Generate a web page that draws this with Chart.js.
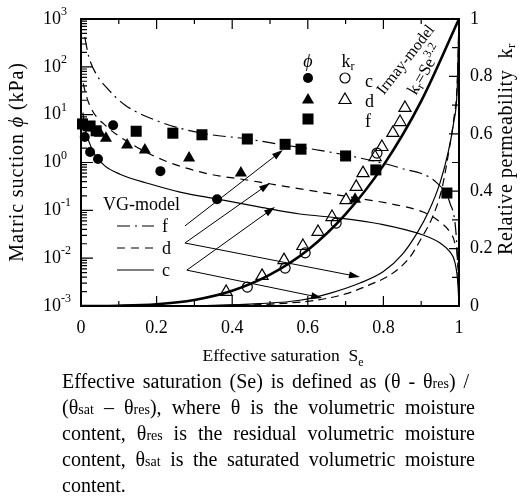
<!DOCTYPE html>
<html>
<head>
<meta charset="utf-8">
<script src="https://cdn.jsdelivr.net/npm/chart.js@4.4.0/dist/chart.umd.min.js"></script>
<style>
body { margin: 0; background: #fff; }
#wrap { position: relative; width: 521px; height: 498px; overflow: hidden; }
#chart { position: absolute; left: 0; top: 0; }
#caption { position: absolute; left: 62px; top: 0; width: 413px; font-family: "Liberation Serif", serif; font-size: 20px; line-height: 26px; color: #000; }
#caption div { position: absolute; left: 0; width: 413px; height: 26px; white-space: nowrap; }
#caption .just { white-space: normal; text-align: justify; text-align-last: justify; }
#caption .s { font-size: 14px; }
</style>
</head>
<body>
<div id="wrap">
<canvas id="chart" width="521" height="370"></canvas>
<div id="caption">
  <div class="just" style="top:368px; width:407px">Effective saturation (Se) is defined as (θ - θ<span class="s">res</span>) /</div>
  <div class="just" style="top:394px">(θ<span class="s">sat</span> – θ<span class="s">res</span>), where θ is the volumetric moisture</div>
  <div class="just" style="top:420px">content, θ<span class="s">res</span> is the residual volumetric moisture</div>
  <div class="just" style="top:446px">content, θ<span class="s">sat</span> is the saturated volumetric moisture</div>
  <div style="top:472px">content.</div>
</div>
</div>
<script>
const ctx = document.querySelector('#chart').getContext('2d');

// axes: Se (x), suction in kPa (left, log), relative permeability (right)
const xTickValues = [0, 0.2, 0.4, 0.6, 0.8, 1];
const xTickLabels = ['0', '0.2', '0.4', '0.6', '0.8', '1'];
const suctionDecades = [-3, -2, -1, 0, 1, 2, 3];
const krTickValues = [0, 0.2, 0.4, 0.6, 0.8, 1];
const krTickLabels = ['0', '0.2', '0.4', '0.6', '0.8', '1'];

// measured suction (filled markers)
const sucC_se = [0.010, 0.024, 0.045, 0.085, 0.21, 0.36];
const sucC_phi = [3.4, 1.66, 1.18, 6.0, 0.66, 0.17];
const sucD_se = [0.019, 0.05, 0.066, 0.122, 0.169, 0.286, 0.423, 0.725];
const sucD_phi = [5.3, 4.1, 3.2, 2.32, 1.82, 1.24, 0.60, 0.17];
const sucF_se = [0.004, 0.024, 0.04, 0.146, 0.243, 0.32, 0.44, 0.54, 0.582, 0.70, 0.78, 0.968];
const sucF_phi = [6.4, 5.8, 4.6, 4.5, 4.1, 3.8, 3.1, 2.4, 1.9, 1.37, 0.70, 0.23];

// measured relative permeability (open markers)
const krC_se = [0.44, 0.54, 0.593, 0.675, 0.783];
const krC_val = [0.066, 0.132, 0.185, 0.289, 0.533];
const krD_se = [0.384, 0.479, 0.537, 0.587, 0.627, 0.664, 0.701, 0.728, 0.746, 0.778, 0.796, 0.825, 0.844, 0.857];
const krD_val = [0.049, 0.105, 0.160, 0.209, 0.258, 0.310, 0.369, 0.415, 0.463, 0.519, 0.554, 0.603, 0.641, 0.690];

// VG-model suction curves
const vgF_se = [0.01, 0.02, 0.04, 0.069, 0.116, 0.217, 0.32, 0.44, 0.54, 0.632, 0.738, 0.844, 0.942, 0.976, 0.992, 0.997, 1.0];
const vgF_phi = [420, 170, 71, 36, 16, 6.7, 4.1, 3.1, 2.3, 1.8, 1.24, 0.77, 0.37, 0.142, 0.034, 0.0056, 0.001];
const vgD_se = [0.006, 0.012, 0.029, 0.063, 0.116, 0.217, 0.328, 0.439, 0.519, 0.632, 0.712, 0.836, 0.905, 0.95, 0.976, 0.989, 0.997, 1.0];
const vgD_phi = [45, 28, 12.5, 6.1, 2.95, 1.13, 0.60, 0.43, 0.338, 0.241, 0.19, 0.129, 0.092, 0.057, 0.035, 0.0207, 0.0072, 0.001];
const vgC_se = [0.005, 0.01, 0.019, 0.037, 0.063, 0.103, 0.183, 0.262, 0.36, 0.474, 0.579, 0.685, 0.791, 0.905, 0.95, 0.976, 0.989, 0.997, 1.0];
const vgC_phi = [11, 5.5, 3.0, 1.44, 0.85, 0.57, 0.355, 0.241, 0.172, 0.117, 0.0837, 0.069, 0.0518, 0.0305, 0.0207, 0.0135, 0.0083, 0.003, 0.001];

// permeability curves
const irmay_se = [0, 0.1, 0.2, 0.3, 0.4, 0.5, 0.6, 0.7, 0.8, 0.9, 1];
const irmay_kr = [0, 0.001, 0.006, 0.021, 0.053, 0.109, 0.195, 0.32, 0.49, 0.714, 1];
const vgkrC_se = [0.2, 0.35, 0.47, 0.579, 0.66, 0.738, 0.80, 0.85, 0.889, 0.92, 0.95, 0.972, 0.986, 0.995, 1];
const vgkrC_val = [0, 0.002, 0.008, 0.02, 0.045, 0.08, 0.12, 0.18, 0.254, 0.33, 0.43, 0.54, 0.64, 0.75, 1];
const vgkrD_se = [0.25, 0.4, 0.52, 0.62, 0.70, 0.76, 0.82, 0.87, 0.90, 0.93, 0.955, 0.972, 0.986, 0.995, 1];
const vgkrD_val = [0, 0.002, 0.008, 0.02, 0.042, 0.072, 0.11, 0.17, 0.235, 0.31, 0.41, 0.53, 0.65, 0.77, 1];

// arrows from the VG-model key, in (Se, kr) units
const arrowTail = [[0.275, 0.279], [0.275, 0.2195], [0.275, 0.2195], [0.28, 0.125], [0.28, 0.125]];
const arrowHead = [[0.534, 0.5436], [0.50, 0.4286], [0.738, 0.101], [0.513, 0.345], [0.638, 0.028]];

const FONT = '"Liberation Serif", "Times New Roman", serif';

function zip(xs, ys) {
    return xs.map((x, i) => ({ x: x, y: ys[i] }));
}

function markers(xs, ys, style, filled, axis, r) {
    return {
        data: zip(xs, ys),
        yAxisID: axis,
        showLine: false,
        pointStyle: style,
        pointRadius: r,
        pointBorderWidth: filled ? 0 : 1.2,
        pointBackgroundColor: filled ? '#000' : 'rgba(0,0,0,0)',
        pointBorderColor: '#000',
        clip: false
    };
}

function curve(xs, ys, axis, width, dash) {
    return {
        data: zip(xs, ys),
        yAxisID: axis,
        showLine: true,
        borderColor: '#000',
        borderWidth: width,
        borderDash: dash,
        pointRadius: 0,
        cubicInterpolationMode: 'monotone'
    };
}

function drawRuns(c, parts, x, y, align, spacing) {
    // parts: [text, size, dy, italic]
    const fnt = (p) => (p[3] ? 'italic ' : '') + p[1] + 'px ' + FONT;
    c.letterSpacing = (spacing || 0) + 'px';
    let w = 0;
    for (const p of parts) {
        c.font = fnt(p);
        w += c.measureText(p[0]).width;
    }
    let cx = align === 'right' ? x - w : (align === 'center' ? x - w / 2 : x);
    for (const p of parts) {
        c.font = fnt(p);
        c.fillText(p[0], cx, y + (p[2] || 0));
        cx += c.measureText(p[0]).width;
    }
    c.letterSpacing = '0px';
}

function drawMarker(c, style, r, filled, x, y) {
    c.fillStyle = filled ? '#000' : 'rgba(0,0,0,0)';
    c.strokeStyle = '#000';
    c.lineWidth = 1.2;
    Chart.helpers.drawPoint(c, { pointStyle: style, radius: r, rotation: 0, borderWidth: filled ? 0 : 1.2 }, x, y);
}

const decorations = {
    id: 'decorations',
    afterDraw(chart) {
        const c = chart.ctx;
        const a = chart.chartArea;
        const sx = chart.scales.x, sl = chart.scales.y, sr = chart.scales.y2;
        c.save();
        c.strokeStyle = '#000';
        c.fillStyle = '#000';

        // inward ticks
        c.lineWidth = 1.2;
        c.beginPath();
        for (let i = 0; i <= 10; i++) {
            const px = sx.getPixelForValue(i / 10);
            const len = i % 2 === 0 ? 10 : 5;
            c.moveTo(px, a.bottom); c.lineTo(px, a.bottom - len);
            c.moveTo(px, a.top); c.lineTo(px, a.top + len);
        }
        for (let i = 0; i <= 10; i++) {
            const py = sr.getPixelForValue(i / 10);
            const len = i % 2 === 0 ? 10 : 7;
            c.moveTo(a.right, py); c.lineTo(a.right - len, py);
        }
        for (const d of suctionDecades) {
            const py = sl.getPixelForValue(Math.pow(10, d));
            c.moveTo(a.left, py); c.lineTo(a.left + 12, py);
            if (d < 3) {
                for (let m = 2; m <= 9; m++) {
                    const pm = sl.getPixelForValue(m * Math.pow(10, d));
                    c.moveTo(a.left, pm); c.lineTo(a.left + 6, pm);
                }
            }
        }
        c.stroke();

        // frame
        c.lineWidth = 2;
        c.strokeRect(a.left, a.top, a.right - a.left, a.bottom - a.top);

        // tick labels
        c.textBaseline = 'middle';
        c.textAlign = 'left';
        xTickValues.forEach((v, i) => {
            drawRuns(c, [[xTickLabels[i], 18]], sx.getPixelForValue(v), a.bottom + 22, 'center');
        });
        for (const d of suctionDecades) {
            const py = sl.getPixelForValue(Math.pow(10, d));
            drawRuns(c, [['10', 18], [String(d), 12, -7]], 43, py, 'left');
        }
        krTickValues.forEach((v, i) => {
            drawRuns(c, [[krTickLabels[i], 18]], a.right + 11, sr.getPixelForValue(v), 'left');
        });

        // axis titles
        drawRuns(c, [['Effective saturation  S', 17.5], ['e', 12, 7]], 283, 356, 'center');
        c.save();
        c.translate(18, 162);
        c.rotate(-Math.PI / 2);
        drawRuns(c, [['Matric suction ', 20], ['\u03d5', 20, 0, true], [' (kPa)', 20]], 0, 0, 'center', 0.9);
        c.restore();
        c.save();
        c.translate(507, 149);
        c.rotate(-Math.PI / 2);
        drawRuns(c, [['Relative permeability  k', 20], ['r', 13, 5]], 0, 0, 'center', 0.6);
        c.restore();

        // marker key
        drawRuns(c, [['\u03d5', 18, 0, true]], 308, 62, 'center');
        drawRuns(c, [['k', 18], ['r', 12, 5]], 348, 62, 'center');
        drawMarker(c, 'circle', 5, true, 308, 78);
        drawMarker(c, 'circle', 5, false, 345, 78);
        drawMarker(c, 'triangle', 7, true, 308, 100);
        drawMarker(c, 'triangle', 7, false, 345, 100);
        drawMarker(c, 'rect', 7.8, true, 308, 119);
        c.fillStyle = '#000';
        drawRuns(c, [['c', 18]], 365, 82, 'left');
        drawRuns(c, [['d', 18]], 365, 102, 'left');
        drawRuns(c, [['f', 18]], 365, 122, 'left');

        // VG-model key
        drawRuns(c, [['VG-model', 18]], 103, 205, 'left');
        const keyRows = [[226, [13, 5, 2, 5]], [248, [8, 6]], [270, []]];
        const keyNames = ['f', 'd', 'c'];
        c.lineWidth = 1.2;
        keyRows.forEach((row, i) => {
            c.setLineDash(row[1]);
            c.beginPath();
            c.moveTo(117, row[0]); c.lineTo(154, row[0]);
            c.stroke();
            c.setLineDash([]);
            drawRuns(c, [[keyNames[i], 18]], 162, row[0] + 1, 'left');
        });

        // arrows
        c.lineWidth = 1;
        arrowTail.forEach((t, i) => {
            const h = arrowHead[i];
            const x0 = sx.getPixelForValue(t[0]), y0 = sr.getPixelForValue(t[1]);
            const x1 = sx.getPixelForValue(h[0]), y1 = sr.getPixelForValue(h[1]);
            const ang = Math.atan2(y1 - y0, x1 - x0);
            c.beginPath();
            c.moveTo(x0, y0); c.lineTo(x1 - 8 * Math.cos(ang), y1 - 8 * Math.sin(ang));
            c.stroke();
            c.beginPath();
            c.moveTo(x1, y1);
            c.lineTo(x1 - 11 * Math.cos(ang) + 3.5 * Math.sin(ang), y1 - 11 * Math.sin(ang) - 3.5 * Math.cos(ang));
            c.lineTo(x1 - 11 * Math.cos(ang) - 3.5 * Math.sin(ang), y1 - 11 * Math.sin(ang) + 3.5 * Math.cos(ang));
            c.closePath();
            c.fill();
        });

        // Irmay-model label along the curve
        c.save();
        c.translate(sx.getPixelForValue(0.86), sr.getPixelForValue(0.857));
        c.rotate(-52 * Math.PI / 180);
        drawRuns(c, [['Irmay-model', 16]], 0, 0, 'center');
        c.restore();
        c.save();
        c.translate(sx.getPixelForValue(0.912), sr.getPixelForValue(0.822));
        c.rotate(-60 * Math.PI / 180);
        drawRuns(c, [['k', 17], ['r', 12, 4], ['=Se', 17], ['3.2', 12, -6]], 0, 0, 'center');
        c.restore();

        c.restore();
    }
};

const chart = new Chart(ctx, {
    type: 'scatter',
    data: {
        datasets: [
            markers(sucC_se, sucC_phi, 'circle', true, 'y', 5),
            markers(sucD_se, sucD_phi, 'triangle', true, 'y', 7),
            markers(sucF_se, sucF_phi, 'rect', true, 'y', 7.8),
            markers(krC_se, krC_val, 'circle', false, 'y2', 5),
            markers(krD_se, krD_val, 'triangle', false, 'y2', 7),
            curve(vgF_se, vgF_phi, 'y', 1.2, [13, 5, 2, 5]),
            curve(vgD_se, vgD_phi, 'y', 1.2, [8, 6]),
            curve(vgC_se, vgC_phi, 'y', 1.2, []),
            curve(irmay_se, irmay_kr, 'y2', 2.6, []),
            curve(vgkrC_se, vgkrC_val, 'y2', 1.2, []),
            curve(vgkrD_se, vgkrD_val, 'y2', 1.2, [8, 5])
        ]
    },
    options: {
        responsive: false,
        animation: false,
        layout: { padding: { left: 81, right: 62, top: 19, bottom: 64 } },
        scales: {
            x: { type: 'linear', min: 0, max: 1, display: false },
            y: { type: 'logarithmic', min: 0.001, max: 1000, display: false },
            y2: { type: 'linear', min: 0, max: 1, position: 'right', display: false }
        },
        plugins: {
            legend: { display: false },
            tooltip: { enabled: false }
        }
    },
    plugins: [decorations]
});
</script>
</body>
</html>
